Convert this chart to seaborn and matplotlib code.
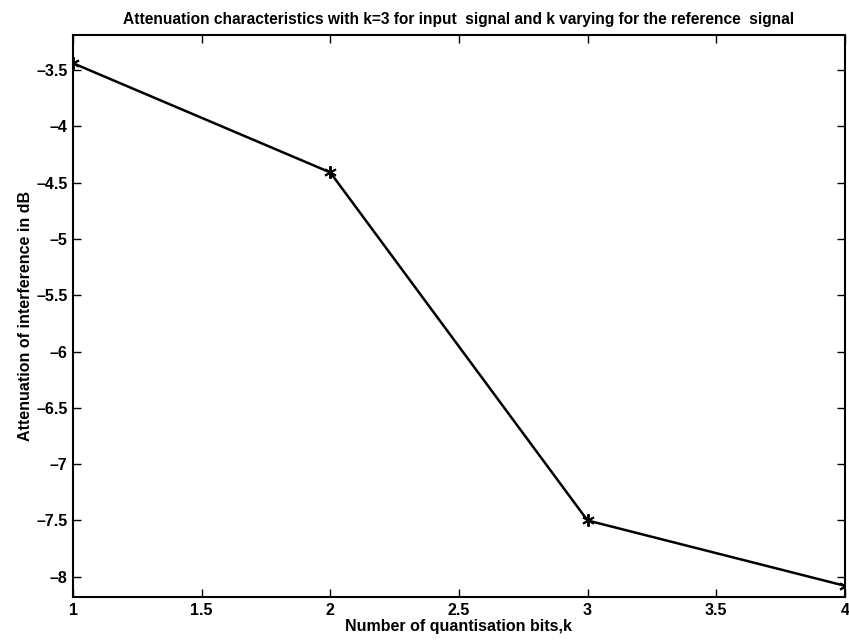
import matplotlib
matplotlib.use("Agg")
import matplotlib.pyplot as plt
import seaborn as sns
import pandas as pd

# Attenuation vs number of quantisation bits
bits = [1, 2, 3, 4]
attenuation_db = [-3.44, -4.41, -7.50, -8.08]

df = pd.DataFrame({'bits': bits, 'att': attenuation_db})

sns.set_style("ticks")
plt.rcParams['font.family'] = ['Liberation Sans', 'DejaVu Sans']
plt.rcParams['font.weight'] = 'bold'
plt.rcParams['text.color'] = 'black'
plt.rcParams['axes.labelcolor'] = 'black'
plt.rcParams['xtick.color'] = 'black'
plt.rcParams['ytick.color'] = 'black'

fig = plt.figure(figsize=(8.49, 6.43), dpi=100)
ax = fig.add_axes([0.086, 0.0715, 0.909, 0.874])

# MATLAB-style '*' marker (asterisk)
sns.lineplot(data=df, x='bits', y='att', ax=ax, color='black', linewidth=1.8,
             marker=(6, 2, 0), markersize=9, markeredgecolor='black',
             markeredgewidth=1.4)

ax.set_xlim(1, 4)
ax.set_ylim(-8.18, -3.19)
ax.set_xticks([1, 1.5, 2, 2.5, 3, 3.5, 4])
ax.set_xticklabels(['1', '1.5', '2', '2.5', '3', '3.5', '4'])
yt = [-8, -7.5, -7, -6.5, -6, -5.5, -5, -4.5, -4, -3.5]
ax.set_yticks(yt)
ax.set_yticklabels(['\u2013' + f'{abs(v):g}' for v in yt])
ax.tick_params(direction='in', top=True, right=True, length=6, width=1,
               labelsize=11.5, pad=4, colors='black')
for lbl in ax.get_xticklabels() + ax.get_yticklabels():
    lbl.set_fontweight('bold')
for s in ax.spines.values():
    s.set_visible(True)
    s.set_linewidth(1.5)
    s.set_color('black')

ax.set_xlabel('Number of quantisation bits,k', fontsize=11.5, fontweight='bold',
              labelpad=1, color='black')
ax.set_ylabel('Attenuation of interference in dB', fontsize=11.5, fontweight='bold',
              labelpad=2, color='black')
ax.set_title('Attenuation characteristics with k=3 for input  signal and k varying for the reference  signal',
             fontsize=11.2, fontweight='bold', pad=8, color='black')

fig.savefig('out.png', dpi=100)
